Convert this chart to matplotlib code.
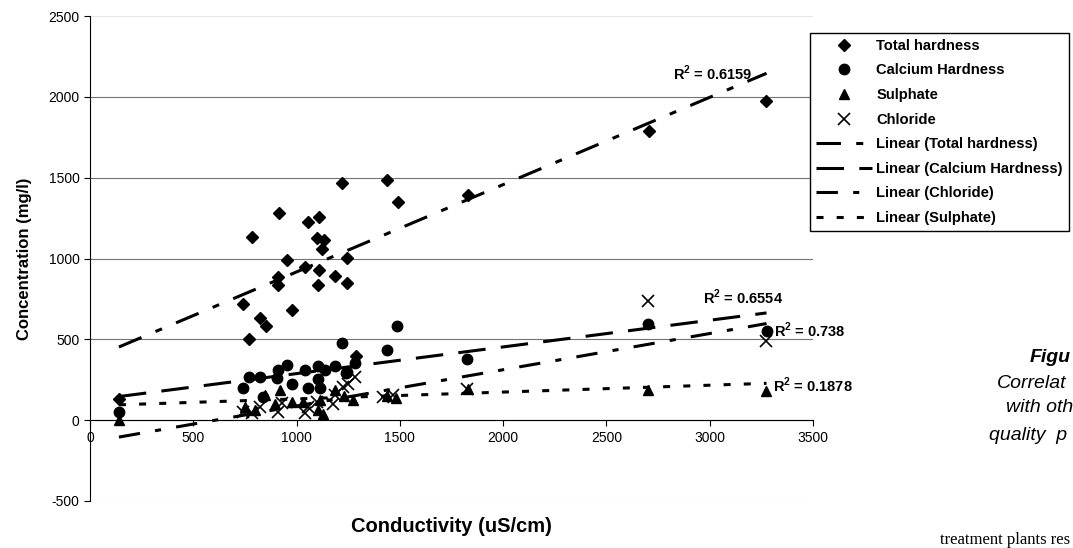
import numpy as np
import matplotlib
matplotlib.use('Agg')
import matplotlib.pyplot as plt

plt.rcParams['font.family'] = ['Liberation Sans', 'DejaVu Sans']
plt.rcParams['mathtext.fontset'] = 'custom'
plt.rcParams['mathtext.rm'] = 'Liberation Sans:bold'
plt.rcParams['mathtext.bf'] = 'Liberation Sans:bold'
plt.rcParams['axes.unicode_minus'] = False

# data
th_x = [140, 742, 770, 783, 823, 850, 908, 912, 913, 952, 979, 1041, 1057, 1100, 1102,
        1110, 1110, 1121, 1133, 1186, 1218, 1242, 1245, 1286, 1440, 1490, 1830, 2705, 3272]
th_y = [130, 721, 505, 1130, 635, 583, 834, 886, 1281, 990, 680, 948, 1226, 1129, 834,
        1257, 927, 1061, 1112, 892, 1465, 1005, 851, 396, 1485, 1350, 1390, 1790, 1975]

ca_x = [140, 739, 771, 823, 836, 907, 912, 952, 976, 1041, 1057, 1102, 1105, 1113,
        1137, 1186, 1218, 1239, 1242, 1283, 1439, 1487, 1826, 2702, 3275]
ca_y = [50, 196, 264, 264, 144, 258, 309, 340, 222, 309, 202, 334, 257, 196,
        309, 336, 476, 290, 299, 354, 433, 580, 381, 593, 550]

su_x = [140, 750, 800, 847, 896, 920, 976, 1033, 1105, 1113, 1130, 1186, 1230, 1275,
        1440, 1480, 1830, 2702, 3272]
su_y = [0, 82, 60, 155, 103, 185, 113, 113, 62, 124, 40, 185, 150, 124,
        150, 140, 195, 189, 181]

cl_x = [741, 783, 823, 912, 928, 1041, 1057, 1100, 1178, 1186, 1226, 1250, 1283,
        1420, 1468, 1826, 2702, 3272]
cl_y = [52, 45, 82, 52, 105, 45, 82, 110, 103, 155, 206, 225, 268,
        144, 155, 195, 735, 490]

# trend lines (slope, intercept) and R^2 as shown
th_fit = (0.540, 377)
ca_fit = (0.165, 123)
cl_fit = (0.224, -136)
su_fit = (0.0424, 89)
r2_labels = ['0.6159', '0.6554', '0.738', '0.1878']
r2_pos = [(2822, 2145), (2967, 760), (3311, 556), (3306, 216)]

fig = plt.figure(figsize=(10.73, 5.48), dpi=100)
ax = fig.add_axes([90/1073, 1-501/548, (813-90)/1073, (501-16)/548])

ax.plot(th_x, th_y, 'kD', ms=6.5, ls='none', label='Total hardness')
ax.plot(ca_x, ca_y, 'ko', ms=7.5, ls='none', label='Calcium Hardness')
ax.plot(su_x, su_y, 'k^', ms=7.5, ls='none', label='Sulphate')
ax.plot(cl_x, cl_y, 'kx', ms=8, mew=1.2, ls='none', label='Chloride')

xl = np.array([140, 3275])
lw = 2.2
ax.plot(xl, th_fit[0]*xl + th_fit[1], 'k', lw=lw, dashes=(8, 5, 2.3, 5), label='Linear (Total hardness)')
ax.plot(xl, ca_fit[0]*xl + ca_fit[1], 'k', lw=lw, dashes=(9, 5), label='Linear (Calcium Hardness)')
ax.plot(xl, cl_fit[0]*xl + cl_fit[1], 'k', lw=lw, dashes=(7, 5, 2, 5), label='Linear (Chloride)')
ax.plot(xl, su_fit[0]*xl + su_fit[1], 'k', lw=lw, dashes=(2.3, 4.3), label='Linear (Sulphate)')

for lab, (px, py) in zip(r2_labels, r2_pos):
    ax.text(px, py, r'R$^{2}$ = ' + lab, fontsize=10.5, fontweight='bold', va='center', ha='left')

ax.set_xlim(0, 3500)
ax.set_ylim(-500, 2500)
ax.set_xticks(np.arange(0, 3501, 500))
ax.set_yticks(np.arange(-500, 2501, 500))
ax.spines['top'].set_visible(False)
ax.spines['right'].set_visible(False)
ax.spines['bottom'].set_position(('data', 0))
ax.tick_params(labelsize=10, direction='out', length=4, color='black')
ax.yaxis.grid(True, color='0.45', lw=0.8)
ax.set_axisbelow(True)
gl = ax.get_ygridlines()
gl[0].set_color('0.9')
gl[-1].set_color('0.9')

ax.set_ylabel('Concentration (mg/l)', fontsize=12, fontweight='bold', labelpad=12)
fig.text(451/1073, 1-526/548, 'Conductivity (uS/cm)', fontsize=14.5, fontweight='bold',
         ha='center', va='center')

leg = fig.legend(loc='upper left', bbox_to_anchor=(810/1073, 1-33/548),
                 prop={'weight': 'bold', 'size': 10.6}, frameon=True, fancybox=False,
                 edgecolor='black', framealpha=1, borderpad=0.4, handlelength=3.8,
                 handletextpad=0.3, labelspacing=0.72, numpoints=1, borderaxespad=0)
leg.get_frame().set_linewidth(1.0)

# caption text on the right, cut by the page edge
fig.text(1030/1073, 1-357/548, 'Figu', fontsize=14, fontweight='bold', style='italic', va='center')
fig.text(997/1073, 1-383/548, 'Correlat', fontsize=14, style='italic', va='center')
fig.text(1006/1073, 1-408/548, 'with oth', fontsize=14, style='italic', va='center')
fig.text(989/1073, 1-435/548, 'quality  p', fontsize=14, style='italic', va='center')
fig.text(940/1073, 1-544/548, 'treatment plants res', fontsize=12,
         family='Liberation Serif', va='baseline')

fig.savefig('out.png', dpi=100)
